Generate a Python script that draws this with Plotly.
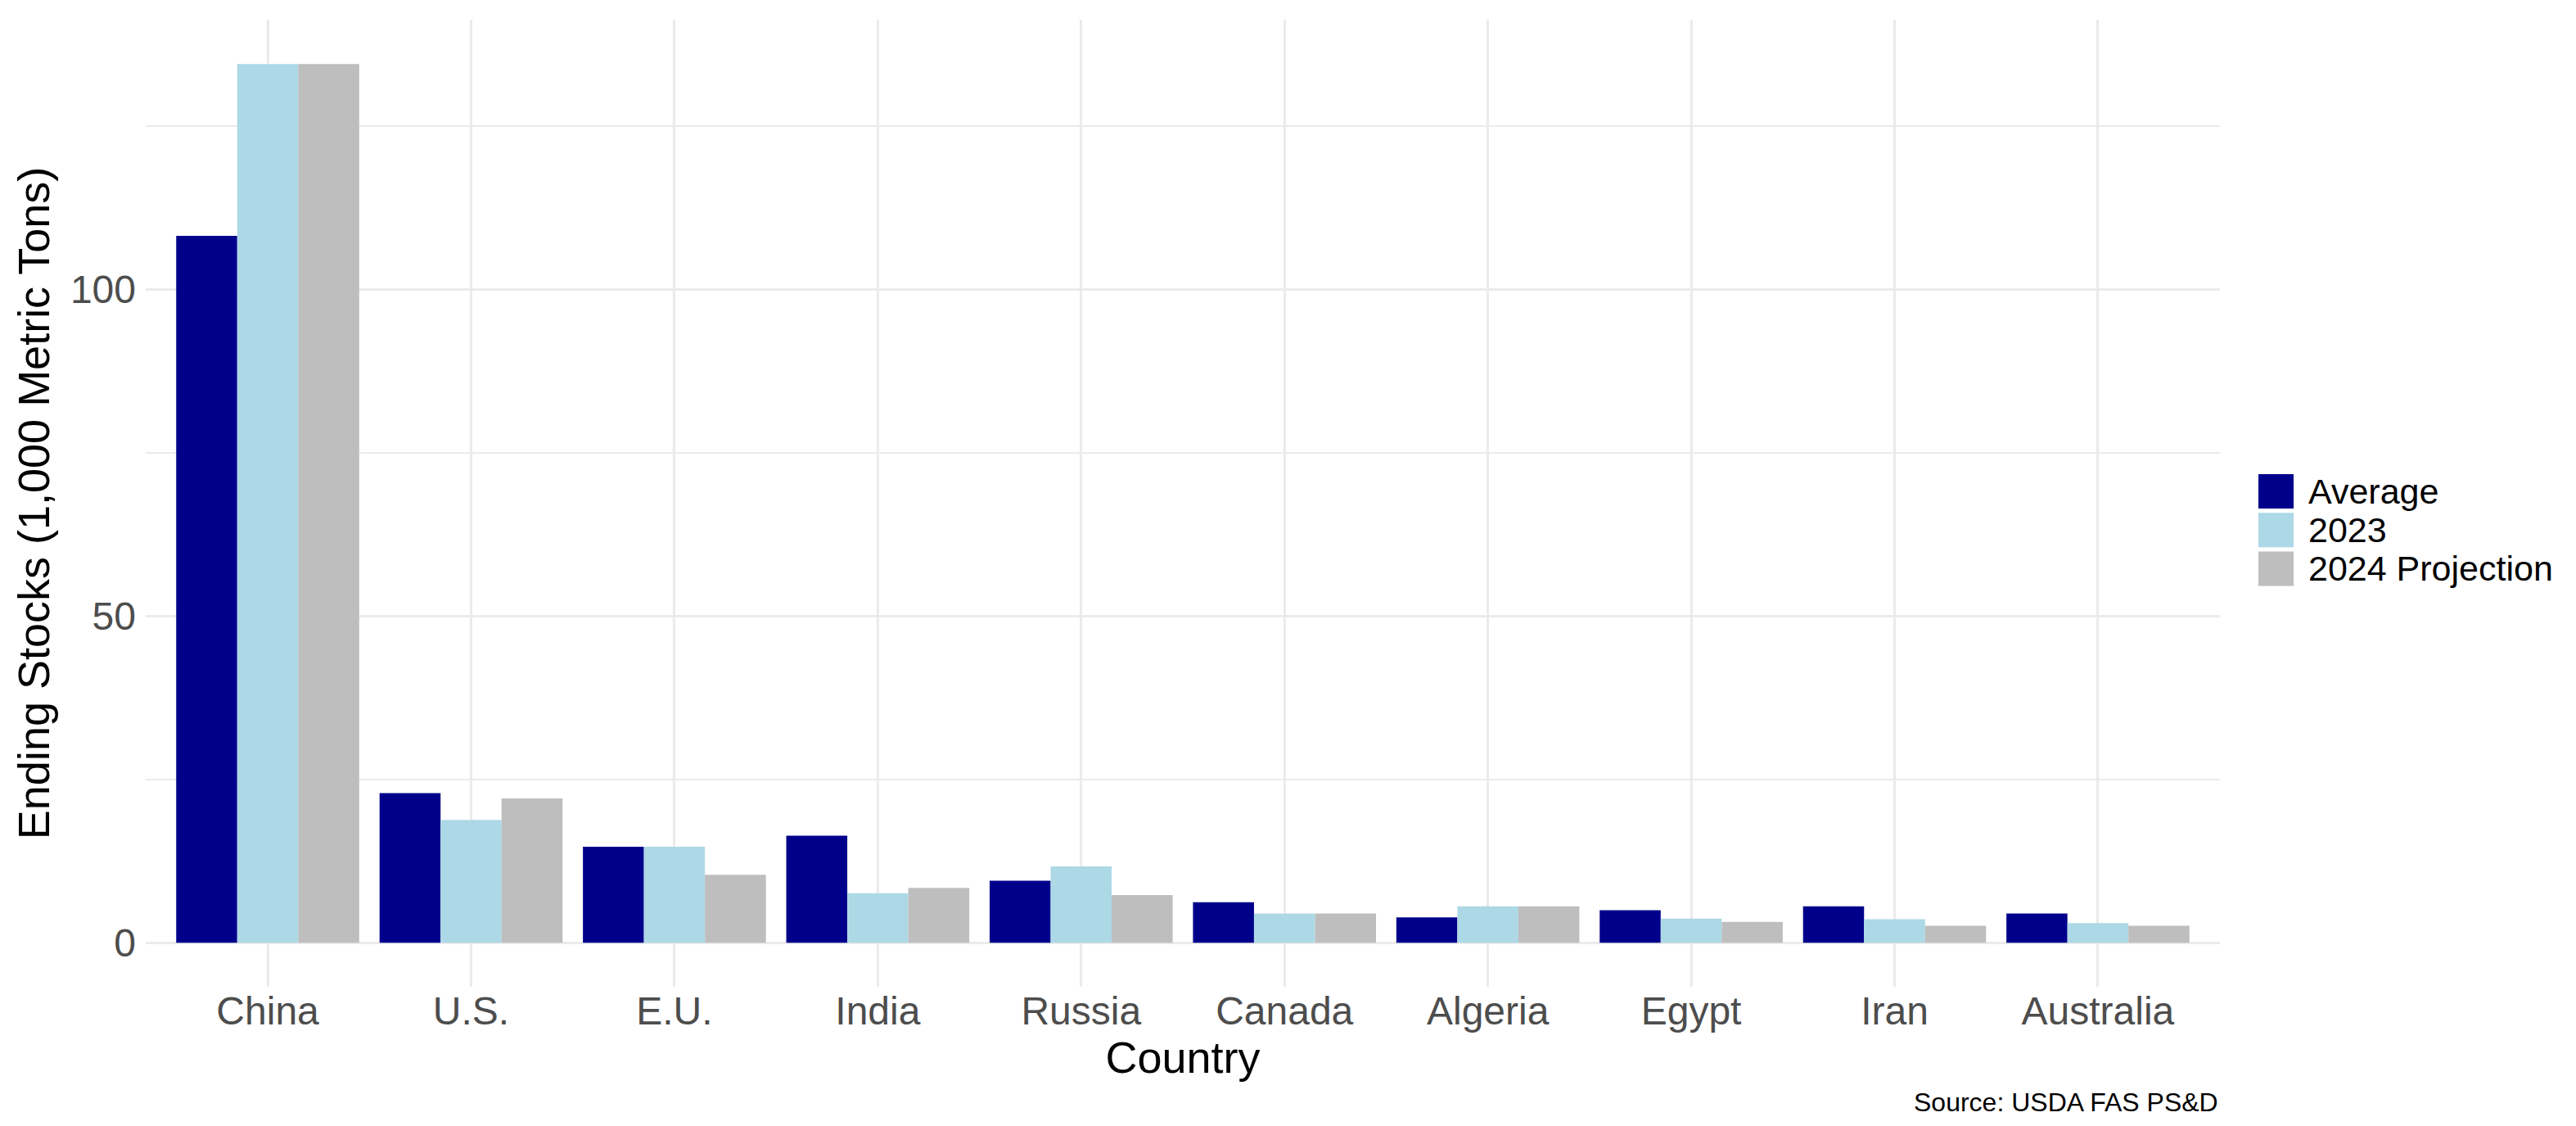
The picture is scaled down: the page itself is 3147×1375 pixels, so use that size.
import plotly.graph_objects as go

# ending stocks by country, 1,000 metric tons
countries = ["China", "U.S.", "E.U.", "India", "Russia", "Canada", "Algeria", "Egypt", "Iran", "Australia"]
average = [108.2, 22.9, 14.7, 16.4, 9.5, 6.2, 3.9, 5.0, 5.6, 4.5]
stocks_2023 = [134.5, 18.8, 14.7, 7.6, 11.7, 4.5, 5.6, 3.7, 3.6, 3.0]
proj_2024 = [134.5, 22.1, 10.4, 8.4, 7.3, 4.5, 5.6, 3.2, 2.6, 2.6]

series_names = ["Average", "2023", "2024 Projection"]
series_colors = ["#00008B", "#ADD8E6", "#BEBEBE"]
series_values = [average, stocks_2023, proj_2024]

W, H = 3147, 1375
L, R, T, B = 170, 443, 16, 178
font = "Liberation Sans, Arial, sans-serif"

fig = go.Figure()
for name, color, vals in zip(series_names, series_colors, series_values):
    fig.add_trace(go.Bar(x=countries, y=vals, name=name,
                         marker=dict(color=color, line=dict(width=0)),
                         showlegend=False))

# pixel -> paper coords
pw, ph = W - L - R, H - T - B
def px(x):
    return (x - L) / pw
def py(y):
    return (H - B - y) / ph

# legend drawn by hand so the keys can be as big as ggplot's
shapes = []
annotations = []
key_top, key_size, key_step = 571, 42, 47.2
for i, (name, color) in enumerate(zip(series_names, series_colors)):
    y0 = key_top + i * key_step
    shapes.append(dict(type="rect", xref="paper", yref="paper",
                       x0=px(2751), x1=px(2794), y0=py(y0 + key_size), y1=py(y0),
                       fillcolor=color, line=dict(width=0)))
    annotations.append(dict(text=name, xref="paper", yref="paper",
                            x=px(2810), y=py(y0 + key_size / 2),
                            xanchor="left", yanchor="middle", showarrow=False,
                            font=dict(family=font, size=43, color="black")))

annotations.append(dict(text="Source: USDA FAS PS&D", xref="paper", yref="paper",
                        x=1, y=py(1338), xanchor="right", yanchor="middle",
                        showarrow=False, font=dict(family=font, size=32, color="black")))

fig.update_layout(
    width=W, height=H,
    margin=dict(l=L, r=R, t=T, b=B),
    paper_bgcolor="white", plot_bgcolor="white",
    barmode="group", bargap=0.1, bargroupgap=0,
    font=dict(family=font),
    shapes=shapes, annotations=annotations,
    xaxis=dict(
        range=[-0.6, 9.6],
        showgrid=True, gridcolor="#EBEBEB", gridwidth=3,
        zeroline=False, showline=False, ticks="",
        tickfont=dict(size=48, color="#4D4D4D"),
        ticklabelstandoff=-3,
        title=dict(text="Country", font=dict(size=54, color="black"), standoff=0),
    ),
    yaxis=dict(
        range=[-6.73, 141.3],
        tickvals=[0, 50, 100],
        showgrid=True, gridcolor="#EBEBEB", gridwidth=3,
        minor=dict(dtick=25, tick0=0, showgrid=True, gridcolor="#EBEBEB", gridwidth=1.5),
        zeroline=False, showline=False, ticks="",
        tickfont=dict(size=48, color="#4D4D4D"),
        ticklabelstandoff=11,
        title=dict(text="Ending Stocks (1,000 Metric Tons)", font=dict(size=54, color="black"), standoff=8),
    ),
)

fig.write_html("out.html")
